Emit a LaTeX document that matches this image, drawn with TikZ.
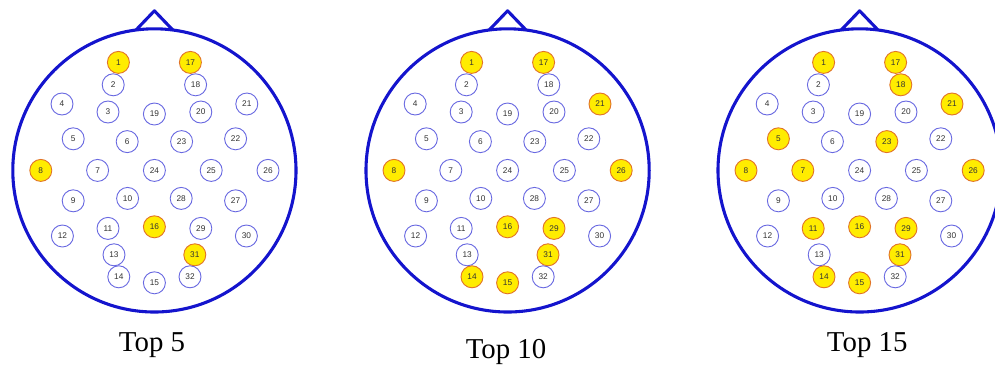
\documentclass[tikz,border=0pt]{standalone}
\usepackage{fontspec}
\setmainfont{Liberation Serif}
\setsansfont{Liberation Sans}
\usepackage{tikz}
\usetikzlibrary{positioning}

\definecolor{headblue}{RGB}{20,20,205}
\definecolor{elecblue}{RGB}{105,105,225}
\definecolor{hotyellow}{RGB}{255,236,0}
\definecolor{hotorange}{RGB}{225,115,40}
\definecolor{numgray}{RGB}{50,50,50}

\tikzset{
  headline/.style={draw=headblue, line width=2.2pt, line join=round},
  elec/.style={circle, draw=elecblue, line width=0.65pt, fill=white,
    minimum size=0.55cm, inner sep=0pt, text=numgray,
    font=\sffamily\fontsize{5.9}{6}\selectfont},
  hot/.style={elec, fill=hotyellow, draw=hotorange},
  caption/.style={font=\fontsize{20.5}{24}\selectfont, text=black}
}

\begin{document}
\begin{tikzpicture}
  \useasboundingbox (0,0) rectangle (24.875,-9.225);

  % Top 5
  \begin{scope}[shift={(3.86,-4.26)}]
    \draw[headline] (0,0) circle (3.54);
    \draw[headline] (-0.46,3.51) -- (0,3.99) -- (0.46,3.51);
    \node[hot] (a1) at (-0.90, 2.70) {1};
    \node[elec] (a2) at (-1.03, 2.14) {2};
    \node[elec] (a3) at (-1.16, 1.46) {3};
    \node[elec] (a4) at (-2.31, 1.66) {4};
    \node[elec] (a5) at (-2.03, 0.79) {5};
    \node[elec] (a6) at (-0.68, 0.72) {6};
    \node[elec] (a7) at (-1.42, 0.00) {7};
    \node[hot] (a8) at (-2.84, 0.00) {8};
    \node[elec] (a9) at (-2.03, -0.76) {9};
    \node[elec] (a10) at (-0.67, -0.70) {10};
    \node[elec] (a11) at (-1.16, -1.45) {11};
    \node[elec] (a12) at (-2.30, -1.64) {12};
    \node[elec] (a13) at (-1.01, -2.11) {13};
    \node[elec] (a14) at (-0.89, -2.66) {14};
    \node[elec] (a15) at (0.00, -2.81) {15};
    \node[hot] (a16) at (0.00, -1.41) {16};
    \node[hot] (a17) at (0.90, 2.70) {17};
    \node[elec] (a18) at (1.03, 2.14) {18};
    \node[elec] (a19) at (0.00, 1.41) {19};
    \node[elec] (a20) at (1.16, 1.46) {20};
    \node[elec] (a21) at (2.31, 1.66) {21};
    \node[elec] (a22) at (2.03, 0.79) {22};
    \node[elec] (a23) at (0.68, 0.72) {23};
    \node[elec] (a24) at (0.00, 0.00) {24};
    \node[elec] (a25) at (1.42, 0.00) {25};
    \node[elec] (a26) at (2.84, 0.00) {26};
    \node[elec] (a27) at (2.03, -0.76) {27};
    \node[elec] (a28) at (0.67, -0.70) {28};
    \node[elec] (a29) at (1.16, -1.45) {29};
    \node[elec] (a30) at (2.30, -1.64) {30};
    \node[hot] (a31) at (1.01, -2.11) {31};
    \node[elec] (a32) at (0.89, -2.66) {32};
  \end{scope}
  \node[caption] (capa) at (3.80, -8.63) {Top 5};

  % Top 10
  \begin{scope}[shift={(12.69,-4.26)}]
    \draw[headline] (0,0) circle (3.54);
    \draw[headline] (-0.46,3.51) -- (0,3.99) -- (0.46,3.51);
    \node[hot] (b1) at (-0.90, 2.70) {1};
    \node[elec] (b2) at (-1.03, 2.14) {2};
    \node[elec] (b3) at (-1.16, 1.46) {3};
    \node[elec] (b4) at (-2.31, 1.66) {4};
    \node[elec] (b5) at (-2.03, 0.79) {5};
    \node[elec] (b6) at (-0.68, 0.72) {6};
    \node[elec] (b7) at (-1.42, 0.00) {7};
    \node[hot] (b8) at (-2.84, 0.00) {8};
    \node[elec] (b9) at (-2.03, -0.76) {9};
    \node[elec] (b10) at (-0.67, -0.70) {10};
    \node[elec] (b11) at (-1.16, -1.45) {11};
    \node[elec] (b12) at (-2.30, -1.64) {12};
    \node[elec] (b13) at (-1.01, -2.11) {13};
    \node[hot] (b14) at (-0.89, -2.66) {14};
    \node[hot] (b15) at (0.00, -2.81) {15};
    \node[hot] (b16) at (0.00, -1.41) {16};
    \node[hot] (b17) at (0.90, 2.70) {17};
    \node[elec] (b18) at (1.03, 2.14) {18};
    \node[elec] (b19) at (0.00, 1.41) {19};
    \node[elec] (b20) at (1.16, 1.46) {20};
    \node[hot] (b21) at (2.31, 1.66) {21};
    \node[elec] (b22) at (2.03, 0.79) {22};
    \node[elec] (b23) at (0.68, 0.72) {23};
    \node[elec] (b24) at (0.00, 0.00) {24};
    \node[elec] (b25) at (1.42, 0.00) {25};
    \node[hot] (b26) at (2.84, 0.00) {26};
    \node[elec] (b27) at (2.03, -0.76) {27};
    \node[elec] (b28) at (0.67, -0.70) {28};
    \node[hot] (b29) at (1.16, -1.45) {29};
    \node[elec] (b30) at (2.30, -1.64) {30};
    \node[hot] (b31) at (1.01, -2.11) {31};
    \node[elec] (b32) at (0.89, -2.66) {32};
  \end{scope}
  \node[caption] (capb) at (12.65, -8.80) {Top 10};

  % Top 15
  \begin{scope}[shift={(21.49,-4.26)}]
    \draw[headline] (0,0) circle (3.54);
    \draw[headline] (-0.46,3.51) -- (0,3.99) -- (0.46,3.51);
    \node[hot] (c1) at (-0.90, 2.70) {1};
    \node[elec] (c2) at (-1.03, 2.14) {2};
    \node[elec] (c3) at (-1.16, 1.46) {3};
    \node[elec] (c4) at (-2.31, 1.66) {4};
    \node[hot] (c5) at (-2.03, 0.79) {5};
    \node[elec] (c6) at (-0.68, 0.72) {6};
    \node[hot] (c7) at (-1.42, 0.00) {7};
    \node[hot] (c8) at (-2.84, 0.00) {8};
    \node[elec] (c9) at (-2.03, -0.76) {9};
    \node[elec] (c10) at (-0.67, -0.70) {10};
    \node[hot] (c11) at (-1.16, -1.45) {11};
    \node[elec] (c12) at (-2.30, -1.64) {12};
    \node[elec] (c13) at (-1.01, -2.11) {13};
    \node[hot] (c14) at (-0.89, -2.66) {14};
    \node[hot] (c15) at (0.00, -2.81) {15};
    \node[hot] (c16) at (0.00, -1.41) {16};
    \node[hot] (c17) at (0.90, 2.70) {17};
    \node[hot] (c18) at (1.03, 2.14) {18};
    \node[elec] (c19) at (0.00, 1.41) {19};
    \node[elec] (c20) at (1.16, 1.46) {20};
    \node[hot] (c21) at (2.31, 1.66) {21};
    \node[elec] (c22) at (2.03, 0.79) {22};
    \node[hot] (c23) at (0.68, 0.72) {23};
    \node[elec] (c24) at (0.00, 0.00) {24};
    \node[elec] (c25) at (1.42, 0.00) {25};
    \node[hot] (c26) at (2.84, 0.00) {26};
    \node[elec] (c27) at (2.03, -0.76) {27};
    \node[elec] (c28) at (0.67, -0.70) {28};
    \node[hot] (c29) at (1.16, -1.45) {29};
    \node[elec] (c30) at (2.30, -1.64) {30};
    \node[hot] (c31) at (1.01, -2.11) {31};
    \node[elec] (c32) at (0.89, -2.66) {32};
  \end{scope}
  \node[caption] (capc) at (21.68, -8.63) {Top 15};
\end{tikzpicture}
\end{document}
